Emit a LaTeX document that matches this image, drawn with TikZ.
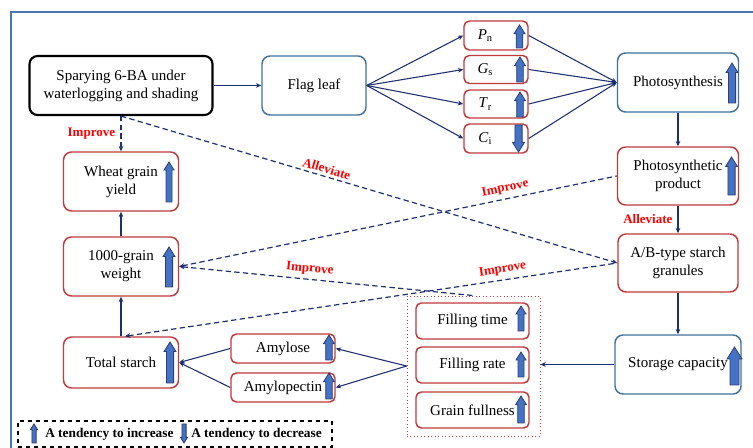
\documentclass[tikz,border=0pt]{standalone}
\usepackage{fontspec}
\setmainfont{Liberation Serif}
\usetikzlibrary{arrows.meta,calc}
\definecolor{navy}{HTML}{1F3070}
\definecolor{bborder}{HTML}{41719C}
\definecolor{rborder}{HTML}{C0393B}
\definecolor{frameblue}{HTML}{4A76A8}
\definecolor{afill}{HTML}{4472C4}
\definecolor{aline}{HTML}{2F3F6F}
\newcommand\upar[4]{%
  \filldraw[upfill] (#1,#2) -- ({#1+#4},{#2+1.6*#4}) -- ({#1+0.6*#4},{#2+1.6*#4}) -- ({#1+0.6*#4},#3)
    -- ({#1-0.6*#4},#3) -- ({#1-0.6*#4},{#2+1.6*#4}) -- ({#1-#4},{#2+1.6*#4}) -- cycle;}
\newcommand\dnar[4]{%
  \filldraw[upfill] (#1,#3) -- ({#1+#4},{#3-1.6*#4}) -- ({#1+0.6*#4},{#3-1.6*#4}) -- ({#1+0.6*#4},#2)
    -- ({#1-0.6*#4},#2) -- ({#1-0.6*#4},{#3-1.6*#4}) -- ({#1-#4},{#3-1.6*#4}) -- cycle;}
\tikzset{
  box/.style={rounded corners=6pt, line width=1.1pt, align=center,
    font=\fontsize{11.25}{13.5}\selectfont, inner sep=0pt},
  sz/.style 2 args={minimum width=#1*0.75pt, minimum height=#2*0.75pt},
  rbox/.style={box, draw=rborder},
  bbox/.style={box, draw=bborder},
  kbox/.style={box, draw=black, line width=1.6pt},
  sbox/.style={rbox, rounded corners=4pt},
  endtip/.style={-{Stealth[length=4pt,width=3.5pt]}},
  starttip/.style={{Stealth[length=4pt,width=3.5pt]}-},
  conn/.style={draw=navy, line width=0.8pt},
  dconn/.style={conn, dash pattern=on 4pt off 2.5pt, line width=0.9pt},
  lbl/.style={text=red, font=\bfseries\fontsize{9.75}{11}\selectfont, inner sep=1pt},
  upfill/.style={fill=afill, draw=aline, line width=0.6pt},
}
\begin{document}
\begin{tikzpicture}[x=0.75pt, y=-0.75pt]
\useasboundingbox (0,0) rectangle (753,448);
\clip (0,0) rectangle (753,448);
\fill[white] (0,0) rectangle (753,448);
\draw[frameblue, line width=2.2pt] (11,470) -- (11,12) -- (780,12);

% nodes
\node[kbox, sz={183}{59}] (spray) at (121,85.5) {Sparying 6-BA under\\waterlogging and shading};
\node[bbox, sz={104}{59}] (flag) at (314,85.5) {Flag leaf};
\node[sbox, sz={64}{29}] (pn) at (496,35.5) {\textit{P}\textsubscript{n}\hspace*{16pt}};
\node[sbox, sz={64}{28}] (gs) at (496,69.5) {\textit{G}\textsubscript{s}\hspace*{16pt}};
\node[sbox, sz={64}{28}] (tr) at (496,104) {\textit{T}\textsubscript{r}\hspace*{16pt}};
\node[sbox, sz={64}{29}] (ci) at (496,138.5) {\textit{C}\textsubscript{i}\hspace*{16pt}};
\node[bbox, sz={121}{59}] (photo) at (678,82.5) {Photosynthesis};
\node[rbox, sz={121}{58}] (prod) at (678,176) {Photosynthetic\\product};
\node[rbox, sz={120}{58}] (ab) at (678,263) {A/B-type starch\\granules};
\node[bbox, sz={126}{59}] (store) at (678,364.5) {Storage capacity};
\node[draw=rborder, dotted, line width=0.6pt, sz={133}{140}, inner sep=0pt] (fgroup) at (473.5,366) {};
\node[sbox, sz={113}{36}] (ftime) at (472.5,321) {Filling time};
\node[sbox, sz={113}{36}] (frate) at (472.5,365) {Filling rate};
\node[sbox, sz={113}{36}] (ffull) at (472.5,410) {Grain fullness};
\node[sbox, sz={104}{29}] (amylose) at (283,348.5) {Amylose};
\node[sbox, sz={104}{29}] (amylopectin) at (283,387.5) {Amylopectin};
\node[rbox, sz={115}{51}] (total) at (121,362.5) {Total starch};
\node[rbox, sz={115}{59}] (kgw) at (121,266.5) {1000-grain\\weight};
\node[rbox, sz={115}{59}] (wheat) at (121,181.5) {Wheat grain\\yield};

% solid connectors
\draw[conn, endtip] (spray) -- (flag);
\foreach \b in {pn,gs,tr,ci}{
  \draw[conn, endtip] (flag.east) -- (\b.west);
  \draw[conn, endtip] (\b.east) -- (photo.west);
}
\draw[conn, endtip] (photo) -- (prod);
\draw[conn, endtip] (prod) -- (ab);
\draw[conn, endtip] (ab) -- (store);
\draw[conn, endtip] (store.west) -- (store.west -| fgroup.east);
\draw[conn, endtip] (fgroup.west) -- (amylose.east);
\draw[conn, endtip] (fgroup.west) -- (amylopectin.east);
\draw[conn, endtip] (amylose.west) -- (total.east);
\draw[conn, endtip] (amylopectin.west) -- (total.east);
\draw[conn, endtip] (total) -- (kgw);
\draw[conn, endtip] (kgw) -- (wheat);

% dashed connectors
\draw[dconn, endtip] (spray.south) -- (wheat.north)
  node[lbl, midway, left=3pt] (l1) {Improve};
\draw[dconn, endtip] (spray.south) -- (ab.west)
  node[lbl, pos=0.41, sloped, above=1pt] (l2) {Alleviate};
\draw[dconn, starttip] (kgw.east) -- (prod.west)
  node[lbl, pos=0.75, sloped, above=2pt] (l3) {Improve};
\draw[dconn, starttip] (kgw.east) -- (fgroup.north)
  node[lbl, pos=0.44, sloped, above=2pt] (l4) {Improve};
\draw[dconn, starttip] ([xshift=3pt]total.north) -- (ab.west)
  node[lbl, pos=0.77, sloped, above=2pt] (l5) {Improve};
\node[lbl, left=3pt] (l6) at ($(prod.south)!0.5!(ab.north)$) {Alleviate};

% legend
\node[draw=black, dashed, line width=0.8pt, sz={314}{26}, inner sep=0pt] (legend) at (175,434) {};
\node[anchor=west, font=\bfseries\fontsize{10}{12}\selectfont, inner sep=0pt] (inc) at (45,434) {A tendency to increase};
\node[anchor=west, font=\bfseries\fontsize{10}{12}\selectfont, inner sep=0pt] (dec) at (191,434) {A tendency to decrease};
\upar{34}{424}{443}{3.5}
\dnar{184}{424}{443}{3.5}

% tendency arrows
\upar{169}{162}{202}{5}
\upar{169}{247}{287}{6}
\upar{170}{342}{383}{6}
\upar{329}{335}{360}{5.5}
\upar{329}{373}{399}{5.5}
\upar{519.5}{25}{48}{5.5}
\upar{520}{57}{82}{5.5}
\upar{520}{92}{117}{5.5}
\dnar{518.5}{125}{152}{6}
\upar{732}{63}{103}{6}
\upar{731.5}{157}{195}{6}
\upar{734.5}{347}{385}{7.5}
\upar{521}{306}{331}{5}
\upar{521}{352}{377}{5}
\upar{521}{396}{423}{5.5}
\end{tikzpicture}
\end{document}
